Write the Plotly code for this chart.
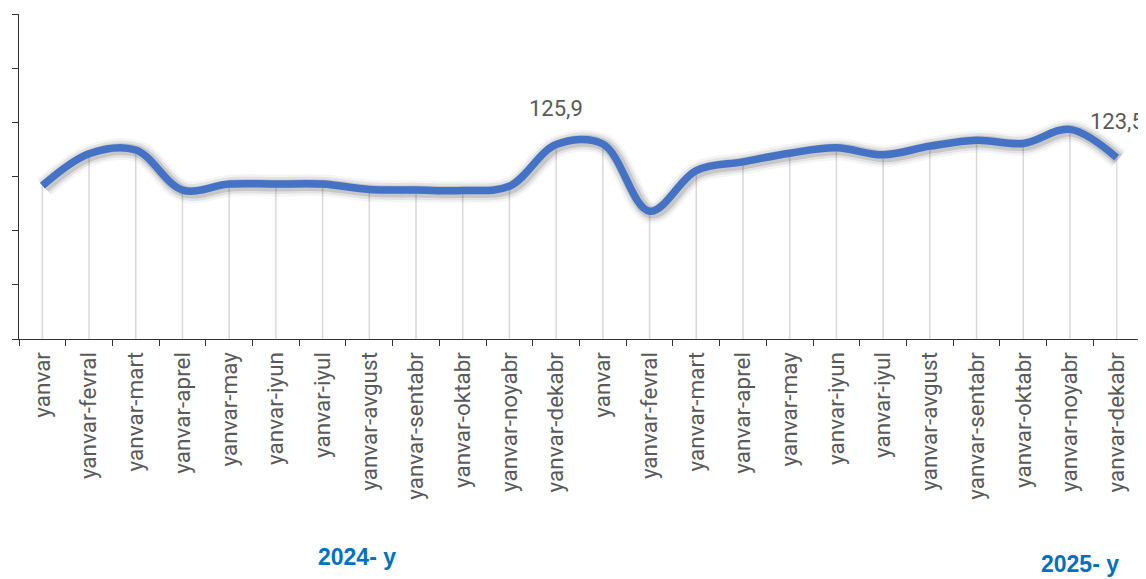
import plotly.graph_objects as go

months = ["yanvar", "yanvar-fevral", "yanvar-mart", "yanvar-aprel", "yanvar-may",
          "yanvar-iyun", "yanvar-iyul", "yanvar-avgust", "yanvar-sentabr",
          "yanvar-oktabr", "yanvar-noyabr", "yanvar-dekabr"]
categories = months + months
values = [118.3, 124.2, 124.9, 117.5, 118.6, 118.6, 118.6, 117.6, 117.5, 117.4, 118.2, 125.9,
          126.0, 113.6, 121.1, 122.7, 124.3, 125.3, 124.0, 125.6, 126.7, 126.1, 128.7, 123.5]
labelled = {11: ("125,9", "center", 0), 23: ("123,5", "right", 29)}
years = [("2024- y", 0.3015, -0.671), ("2025- y", 0.9465, -0.692)]
y_min, y_max, y_step = 90, 150, 10

x = list(range(len(values)))
fig = go.Figure()

# drop lines from points to axis
fig.add_trace(go.Scatter(
    x=x, y=values, mode="markers", marker=dict(size=1, opacity=0),
    error_y=dict(type="data", symmetric=False, array=[0] * len(values),
                 arrayminus=[v - y_min for v in values], color="#d9d9d9",
                 thickness=1.5, width=0),
    hoverinfo="skip", showlegend=False))

# soft shadow
for w, c in [(22, "rgba(0,0,0,0.04)"), (17, "rgba(0,0,0,0.07)"), (12, "rgba(0,0,0,0.12)")]:
    fig.add_trace(go.Scatter(x=[i + 0.04 for i in x], y=[v - 0.25 for v in values], mode="lines",
                             line=dict(color=c, width=w, shape="spline", smoothing=1.0),
                             hoverinfo="skip", showlegend=False))

fig.add_trace(go.Scatter(x=x, y=values, mode="lines",
                         line=dict(color="#4472C4", width=7.5, shape="spline", smoothing=1.0),
                         showlegend=False))

for i, (t, anchor, xs) in labelled.items():
    fig.add_annotation(x=x[i], y=values[i], text=t, showarrow=False, yanchor="bottom",
                       xanchor=anchor, xshift=xs, yshift=22,
                       font=dict(family="Roboto", size=22, color="#595959"))

for t, px, py in years:
    fig.add_annotation(x=px, y=py, xref="paper", yref="paper", text=t, showarrow=False,
                       xanchor="center", yanchor="middle",
                       font=dict(family="Liberation Sans", size=23, color="#0070C0",
                                 weight="bold"))

n = len(values)
# page body has an 8px margin; figure is sized so the plot sits where the reference has it
fig.update_layout(
    width=1138, height=571, margin=dict(l=11, r=6, t=6, b=240, autoexpand=False),
    plot_bgcolor="white", paper_bgcolor="white",
    xaxis=dict(range=[-0.5, n - 0.5], tickvals=[i - 0.5 for i in range(n + 1)],
               ticktext=[""] * (n + 1), ticks="outside", ticklen=6, tickcolor="#333",
               showline=True, linecolor="#333", linewidth=1, showgrid=False, zeroline=False,
               automargin=False),
    xaxis2=dict(overlaying="x", matches="x", anchor="y", side="bottom",
                tickvals=x, ticktext=categories, tickangle=-90, ticks="outside",
                ticklen=3, tickcolor="rgba(0,0,0,0)", showline=False, showgrid=False,
                zeroline=False, automargin=False,
                tickfont=dict(family="Roboto", size=22.5, color="#595959")),
    yaxis=dict(range=[y_min, y_max], tickvals=list(range(y_min, y_max + 1, y_step)),
               showticklabels=False, ticks="outside", ticklen=6, tickcolor="#333",
               showline=True, linecolor="#333", linewidth=1, showgrid=False, zeroline=False,
               automargin=False),
)
# dummy trace so xaxis2 renders
fig.add_trace(go.Scatter(x=[x[0]], y=[values[0]], xaxis="x2", mode="markers",
                         marker=dict(opacity=0), hoverinfo="skip", showlegend=False))

fig.write_html("out.html")
